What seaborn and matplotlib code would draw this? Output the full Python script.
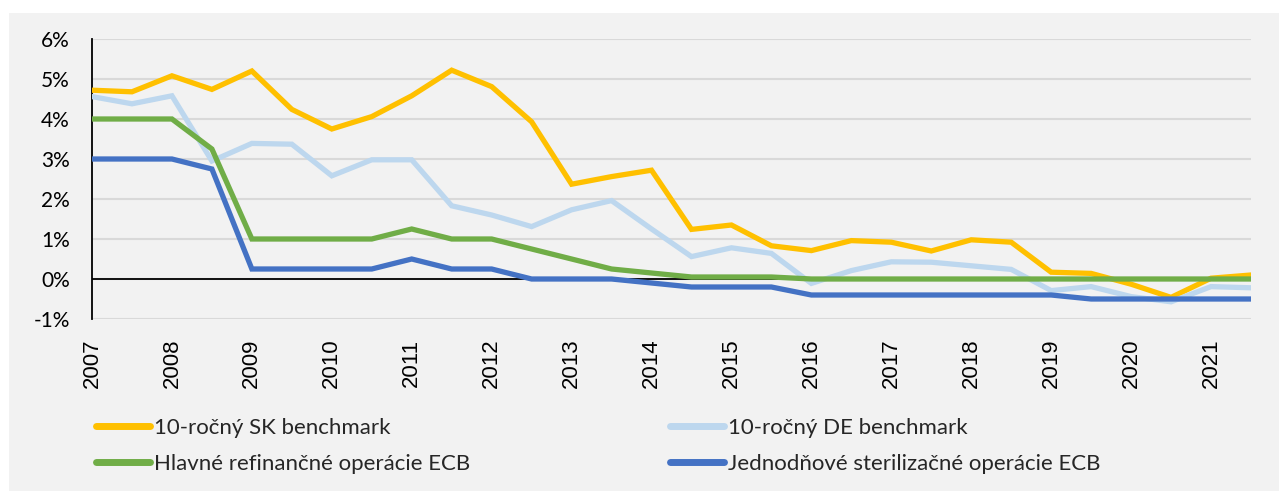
import numpy as np
import pandas as pd
import matplotlib
matplotlib.use("Agg")
import matplotlib.pyplot as plt
import seaborn as sns
from matplotlib.lines import Line2D
from matplotlib.patches import Rectangle
from matplotlib.ticker import FuncFormatter

# ---- data ----
periods = [2007.0 + 0.5 * i for i in range(30)]
sk_10y = [4.72, 4.68, 5.08, 4.74, 5.20, 4.24, 3.75, 4.06, 4.58, 5.22,
          4.81, 3.93, 2.37, 2.56, 2.72, 1.24, 1.35, 0.83, 0.71, 0.96,
          0.92, 0.70, 0.98, 0.92, 0.17, 0.14, -0.13, -0.46, 0.02, 0.10]
de_10y = [4.56, 4.38, 4.58, 2.95, 3.39, 3.37, 2.58, 2.98, 2.98, 1.83,
          1.60, 1.31, 1.73, 1.96, 1.25, 0.56, 0.78, 0.64, -0.11, 0.21,
          0.43, 0.42, 0.33, 0.24, -0.29, -0.19, -0.44, -0.57, -0.19, -0.22]
ecb_mro = [4.00, 4.00, 4.00, 3.25, 1.00, 1.00, 1.00, 1.00, 1.25, 1.00,
           1.00, 0.75, 0.50, 0.25, 0.15, 0.05, 0.05, 0.05, 0.00, 0.00,
           0.00, 0.00, 0.00, 0.00, 0.00, 0.00, 0.00, 0.00, 0.00, 0.00]
ecb_dep = [3.00, 3.00, 3.00, 2.75, 0.25, 0.25, 0.25, 0.25, 0.50, 0.25,
           0.25, 0.00, 0.00, 0.00, -0.10, -0.20, -0.20, -0.20, -0.40, -0.40,
           -0.40, -0.40, -0.40, -0.40, -0.40, -0.50, -0.50, -0.50, -0.50, -0.50]
series_names = ["10-ročný SK benchmark", "10-ročný DE benchmark",
                "Hlavné refinančné operácie ECB", "Jednodňové sterilizačné operácie ECB"]
colors = ["#FFC000", "#BDD7EE", "#70AD47", "#4472C4"]
year_ticks = list(range(2007, 2022))
y_ticks = [-1, 0, 1, 2, 3, 4, 5, 6]

df = pd.DataFrame({
    "period": periods * 4,
    "value": sk_10y + de_10y + ecb_mro + ecb_dep,
    "series": sum([[n] * len(periods) for n in series_names], []),
})

sns.set_theme(style="white")
plt.rcParams["font.family"] = ["Lato", "DejaVu Sans"]

fig = plt.figure(figsize=(12.79, 4.91), dpi=100, facecolor="white")
fig.patches.append(Rectangle((9 / 1279, 0), 1 - 9 / 1279, 1 - 13 / 491,
                             transform=fig.transFigure, facecolor="#F2F2F2",
                             edgecolor="none", zorder=-10))
ax = fig.add_axes([92 / 1279, 1 - 319 / 491, (1251 - 92) / 1279, (319 - 39) / 491])
ax.set_facecolor("none")

for y in y_ticks:
    ax.axhline(y, color="#D9D9D9", lw=1.5, zorder=0)
ax.axhline(0, color="black", lw=1.3, zorder=1)

sns.lineplot(data=df, x="period", y="value", hue="series", hue_order=series_names,
             palette=colors, linewidth=3.8, ax=ax, legend=False, zorder=3,
             solid_capstyle="round", solid_joinstyle="miter")

ax.set_xlim(2007, 2021.5)
ax.set_ylim(-1, 6)
ax.set_yticks(y_ticks)
ax.yaxis.set_major_formatter(FuncFormatter(lambda v, p: f"{v:.0f}%"))
ax.set_xticks(year_ticks)
ax.set_xticklabels([str(y) for y in year_ticks], rotation=90,
                   fontfamily="Liberation Sans", fontsize=16)
ax.tick_params(axis="y", length=0, pad=16, labelsize=15, labelcolor="black")
ax.tick_params(axis="x", length=0, pad=14, labelcolor="black")
ax.set_xlabel("")
ax.set_ylabel("")
for s in ["top", "right", "bottom"]:
    ax.spines[s].set_visible(False)
ax.spines["left"].set_color("black")
ax.spines["left"].set_linewidth(1.3)

handles = [Line2D([0], [0], color=c, lw=5, solid_capstyle="round") for c in colors]
leg_kw = dict(frameon=False, fontsize=16, handlelength=2.45, handletextpad=0.15,
              labelspacing=0.72, borderpad=0, borderaxespad=0, loc="upper left")
leg1 = fig.legend([handles[0], handles[2]], [series_names[0], series_names[2]],
                  bbox_to_anchor=(96 / 1279, 1 - 418 / 491), **leg_kw)
leg2 = fig.legend([handles[1], handles[3]], [series_names[1], series_names[3]],
                  bbox_to_anchor=(670 / 1279, 1 - 418 / 491), **leg_kw)

fig.savefig("out.png", dpi=100, facecolor=fig.get_facecolor())
